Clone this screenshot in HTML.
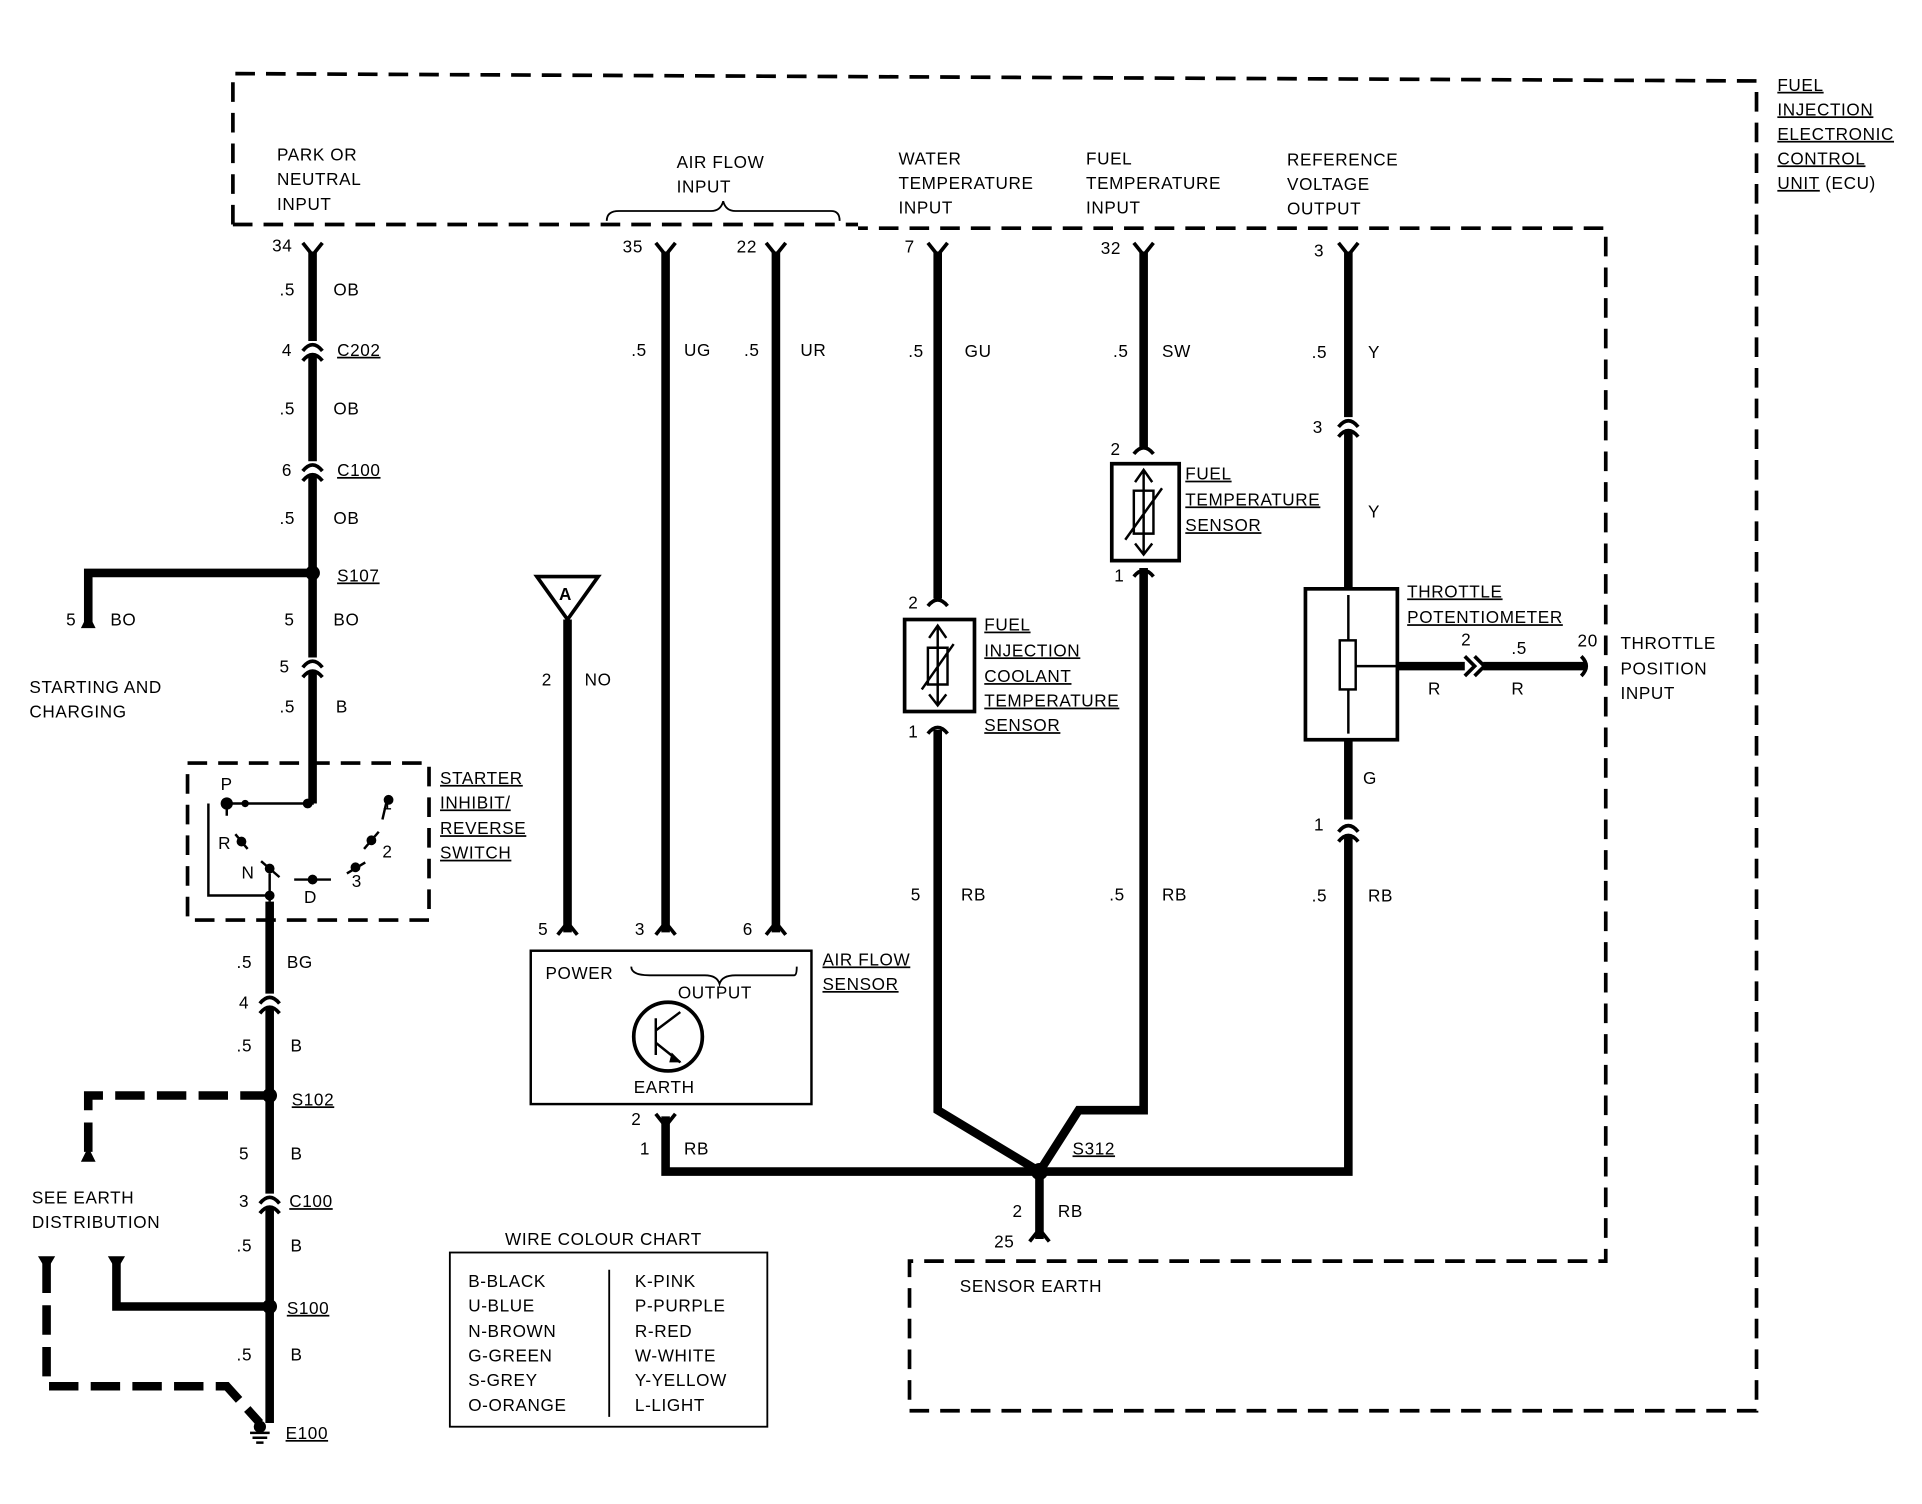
<!DOCTYPE html>
<html><head><style>
html,body{margin:0;padding:0;background:#fff;}
svg{display:block;}
text{font-family:"Liberation Sans",sans-serif;font-size:14px;fill:#000;letter-spacing:0.5px;}
.u{text-decoration:underline;}
</style></head><body>
<svg width="1922" height="1504" viewBox="0 0 1568 1226" preserveAspectRatio="none" xmlns="http://www.w3.org/2000/svg">
<g fill="none" stroke="#000" stroke-width="3" stroke-dasharray="16 9">
<path d="M190 183 V60 L1433 66 V1150 H742 V1028 H1310 V186 H700"/>
<path d="M190 183 H700"/>
<rect x="153" y="622" width="197" height="128"/>
<rect x="367" y="1021" width="259" height="142" stroke-dasharray="none" stroke-width="1.5"/>
</g>
<g fill="none" stroke="#000" stroke-width="7">
<path d="M255 205 V278 M255 290 V376 M255 388 V536 M255 548 V655"/>
<path d="M255 467 H72 V510"/>
<path d="M220 735 V810 M220 822 V973 M220 985 V1160"/>
<path d="M220 1065 H95 V1030"/>
<path d="M543 205 V760 M633 205 V760 M463 505 V760"/>
<path d="M543 910 V955 H848"/>
<path d="M765 205 V488 M765 595 V905 L848 955 L880 905 H933 V463 M933 205 V365"/>
<path d="M1100 205 V340 M1100 352 V480 M1100 603 V668 M1100 682 V955 H848 V1010"/>
<path d="M1140 543 H1195 M1210 543 H1293"/>
</g>
<g fill="none" stroke="#000" stroke-width="7" stroke-dasharray="24 10">
<path d="M220 893 H72 V945"/>
<path d="M38 1030 V1130 H185 L212 1160"/>
</g>
<g fill="none" stroke="#000" stroke-width="3">
<path d="M247 198 L255 208 L263 198 M535 198 L543 208 L551 198 M625 198 L633 208 L641 198 M757 198 L765 208 L773 198 M925 198 L933 208 L941 198 M1092 198 L1100 208 L1108 198"/>
<path d="M247 286 Q255 276 263 286 M247 294 Q255 284 263 294 M247 384 Q255 374 263 384 M247 392 Q255 382 263 392 M247 544 Q255 534 263 544 M247 552 Q255 542 263 552"/>
<path d="M212 818 Q220 808 228 818 M212 826 Q220 816 228 826 M212 981 Q220 971 228 981 M212 989 Q220 979 228 989"/>
<path d="M1092 348 Q1100 338 1108 348 M1092 356 Q1100 346 1108 356 M1092 678 Q1100 668 1108 678 M1092 686 Q1100 676 1108 686"/>
<path d="M757 494 Q765 484 773 494 M757 598 Q765 588 773 598 M925 370 Q933 360 941 370 M925 470 Q933 460 941 470"/>
<path d="M1195 535 L1203 543 L1195 551 M1203 535 L1211 543 L1203 551 M1290 535 Q1298 543 1290 551"/>
<path d="M455 762 L463 752 L471 762 M535 762 L543 752 L551 762 M625 762 L633 752 L641 762 M535 908 L543 918 L551 908"/>
<path d="M840 1012 L848 1002 L856 1012"/>
<path d="M515 788 Q515 795 530 795 H575 Q585 795 587 802 Q589 795 600 795 H648 Q650 795 650 788" stroke-width="1.5"/>
<path d="M495 180 Q495 172 505 172 H580 Q588 172 590 164 Q592 172 600 172 H678 Q685 172 685 180" stroke-width="1.5"/>
</g>
<path d="M66 512 H78 L72 500 Z M66 947 H78 L72 935 Z M31 1024 H45 L38 1036 Z M88 1024 H102 L95 1036 Z" fill="#000"/>
<path d="M438 470 H488 L463 505 Z" fill="#fff" stroke="#000" stroke-width="3"/>
<text x="456" y="489" font-weight="bold">A</text>
<g fill="#000"><circle cx="255" cy="467" r="6"/><circle cx="220" cy="893" r="6"/><circle cx="220" cy="1065" r="6"/><circle cx="848" cy="955" r="7"/></g>
<g stroke="#000" stroke-width="2"><path d="M204 1168 H220 M206 1172 H218 M209 1176 H215"/></g><circle cx="212" cy="1163" r="5" fill="#000"/>
<g stroke="#000" stroke-width="2" fill="none"><path d="M255 620 V655 H185 M170 655 V730 H220 M185 655 V665 M220 712 V735"/></g>
<g fill="#000"><circle cx="185" cy="655" r="5"/><circle cx="200" cy="655" r="3"/><circle cx="251" cy="655" r="4"/><circle cx="317" cy="652" r="4"/><circle cx="197" cy="686" r="4"/><circle cx="220" cy="708" r="4"/><circle cx="255" cy="717" r="4"/><circle cx="290" cy="707" r="4"/><circle cx="303" cy="685" r="4"/><circle cx="220" cy="730" r="4"/></g>
<g stroke="#000" stroke-width="2"><path d="M192 680 L202 692 M213 702 L228 715 M240 717 L270 717 M283 712 L298 703 M297 692 L309 678 M315 655 L312 668"/></g>
<g fill="none" stroke="#000" stroke-width="3">
<rect x="433" y="775" width="229" height="125" stroke-width="2"/>
<circle cx="545" cy="845" r="28"/>
<path d="M535 830 V860 M535 840 L555 825 M535 850 L555 866" stroke-width="2"/>
<rect x="738" y="505" width="57" height="75"/>
<rect x="907" y="378" width="55" height="79"/>
<rect x="1065" y="480" width="75" height="123"/>
<rect x="1093" y="522" width="13" height="40" stroke-width="2"/>
<path d="M765 510 V575 M758 520 L765 510 L772 520 M758 566 L765 575 L772 566 M757 528 H773 V558 H757 Z M752 562 L778 525" stroke-width="2"/>
<path d="M933 383 V452 M926 393 L933 383 L940 393 M926 443 L933 452 L940 443 M925 400 H941 V435 H925 Z M918 440 L948 398" stroke-width="2"/>
<path d="M1100 485 V522 M1100 562 V598 M1106 543 H1140" stroke-width="2"/>
</g>
<path d="M548 858 L556 866 L546 866 Z" fill="#000"/>
<text x="226" y="131">PARK OR</text><text x="226" y="151">NEUTRAL</text><text x="226" y="171">INPUT</text>
<text x="552" y="137">AIR FLOW</text><text x="552" y="157">INPUT</text>
<text x="733" y="134">WATER</text><text x="733" y="154">TEMPERATURE</text><text x="733" y="174">INPUT</text>
<text x="886" y="134">FUEL</text><text x="886" y="154">TEMPERATURE</text><text x="886" y="174">INPUT</text>
<text x="1050" y="135">REFERENCE</text><text x="1050" y="155">VOLTAGE</text><text x="1050" y="175">OUTPUT</text>
<text x="1450" y="74" class="u">FUEL</text><text x="1450" y="94" class="u">INJECTION</text><text x="1450" y="114" class="u">ELECTRONIC</text><text x="1450" y="134" class="u">CONTROL</text><text x="1450" y="154"><tspan class="u">UNIT</tspan> (ECU)</text>
<text x="222" y="205">34</text><text x="508" y="206">35</text><text x="601" y="206">22</text><text x="738" y="206">7</text><text x="898" y="207">32</text><text x="1072" y="209">3</text>
<text x="228" y="241">.5</text><text x="272" y="241">OB</text>
<text x="230" y="290">4</text><text x="275" y="290" class="u">C202</text>
<text x="228" y="338">.5</text><text x="272" y="338">OB</text>
<text x="230" y="388">6</text><text x="275" y="388" class="u">C100</text>
<text x="228" y="427">.5</text><text x="272" y="427">OB</text>
<text x="275" y="474" class="u">S107</text>
<text x="54" y="510">5</text><text x="90" y="510">BO</text><text x="232" y="510">5</text><text x="272" y="510">BO</text>
<text x="228" y="548">5</text>
<text x="24" y="565">STARTING AND</text><text x="24" y="585">CHARGING</text>
<text x="228" y="581">.5</text><text x="274" y="581">B</text>
<text x="180" y="644">P</text><text x="178" y="692">R</text><text x="197" y="716">N</text><text x="248" y="736">D</text><text x="312" y="660">1</text><text x="312" y="699">2</text><text x="287" y="723">3</text>
<text x="359" y="639" class="u">STARTER</text><text x="359" y="659" class="u">INHIBIT/</text><text x="359" y="680" class="u">REVERSE</text><text x="359" y="700" class="u">SWITCH</text>
<text x="515" y="290">.5</text><text x="558" y="290">UG</text><text x="607" y="290">.5</text><text x="653" y="290">UR</text>
<text x="741" y="291">.5</text><text x="787" y="291">GU</text><text x="908" y="291">.5</text><text x="948" y="291">SW</text>
<text x="1070" y="292">.5</text><text x="1116" y="292">Y</text>
<text x="1071" y="353">3</text><text x="1116" y="422">Y</text>
<text x="906" y="371">2</text><text x="909" y="474">1</text>
<text x="967" y="391" class="u">FUEL</text><text x="967" y="412" class="u">TEMPERATURE</text><text x="967" y="433" class="u">SENSOR</text>
<text x="741" y="496">2</text><text x="741" y="601">1</text>
<text x="803" y="514" class="u">FUEL</text><text x="803" y="535" class="u">INJECTION</text><text x="803" y="556" class="u">COOLANT</text><text x="803" y="576" class="u">TEMPERATURE</text><text x="803" y="596" class="u">SENSOR</text>
<text x="1148" y="487" class="u">THROTTLE</text><text x="1148" y="508" class="u">POTENTIOMETER</text>
<text x="1192" y="526">2</text><text x="1233" y="533">.5</text><text x="1287" y="527">20</text>
<text x="1165" y="566">R</text><text x="1233" y="566">R</text>
<text x="1322" y="529">THROTTLE</text><text x="1322" y="550">POSITION</text><text x="1322" y="570">INPUT</text>
<text x="1112" y="639">G</text><text x="1072" y="677">1</text>
<text x="442" y="559">2</text><text x="477" y="559">NO</text>
<text x="743" y="734">5</text><text x="784" y="734">RB</text><text x="905" y="734">.5</text><text x="948" y="734">RB</text><text x="1070" y="735">.5</text><text x="1116" y="735">RB</text>
<text x="439" y="762">5</text><text x="518" y="762">3</text><text x="606" y="762">6</text>
<text x="671" y="787" class="u">AIR FLOW</text><text x="671" y="807" class="u">SENSOR</text>
<text x="445" y="798">POWER</text><text x="553" y="814">OUTPUT</text><text x="517" y="891">EARTH</text>
<text x="515" y="917">2</text><text x="522" y="941">1</text><text x="558" y="941">RB</text>
<text x="875" y="941" class="u">S312</text>
<text x="826" y="992">2</text><text x="863" y="992">RB</text><text x="811" y="1017">25</text>
<text x="783" y="1053">SENSOR EARTH</text>
<text x="193" y="789">.5</text><text x="234" y="789">BG</text>
<text x="195" y="822">4</text><text x="193" y="857">.5</text><text x="237" y="857">B</text>
<text x="238" y="901" class="u">S102</text>
<text x="195" y="945">5</text><text x="237" y="945">B</text>
<text x="26" y="981">SEE EARTH</text><text x="26" y="1001">DISTRIBUTION</text>
<text x="195" y="984">3</text><text x="236" y="984" class="u">C100</text>
<text x="193" y="1020">.5</text><text x="237" y="1020">B</text>
<text x="234" y="1071" class="u">S100</text>
<text x="193" y="1109">.5</text><text x="237" y="1109">B</text>
<text x="233" y="1173" class="u">E100</text>
<text x="412" y="1015">WIRE COLOUR CHART</text>
<line x1="497" y1="1035" x2="497" y2="1155" stroke="#000" stroke-width="1.5"/>
<text x="382" y="1049">B-BLACK</text><text x="382" y="1069">U-BLUE</text><text x="382" y="1090">N-BROWN</text><text x="382" y="1110">G-GREEN</text><text x="382" y="1130">S-GREY</text><text x="382" y="1150">O-ORANGE</text>
<text x="518" y="1049">K-PINK</text><text x="518" y="1069">P-PURPLE</text><text x="518" y="1090">R-RED</text><text x="518" y="1110">W-WHITE</text><text x="518" y="1130">Y-YELLOW</text><text x="518" y="1150">L-LIGHT</text>
</svg>
</body></html>
